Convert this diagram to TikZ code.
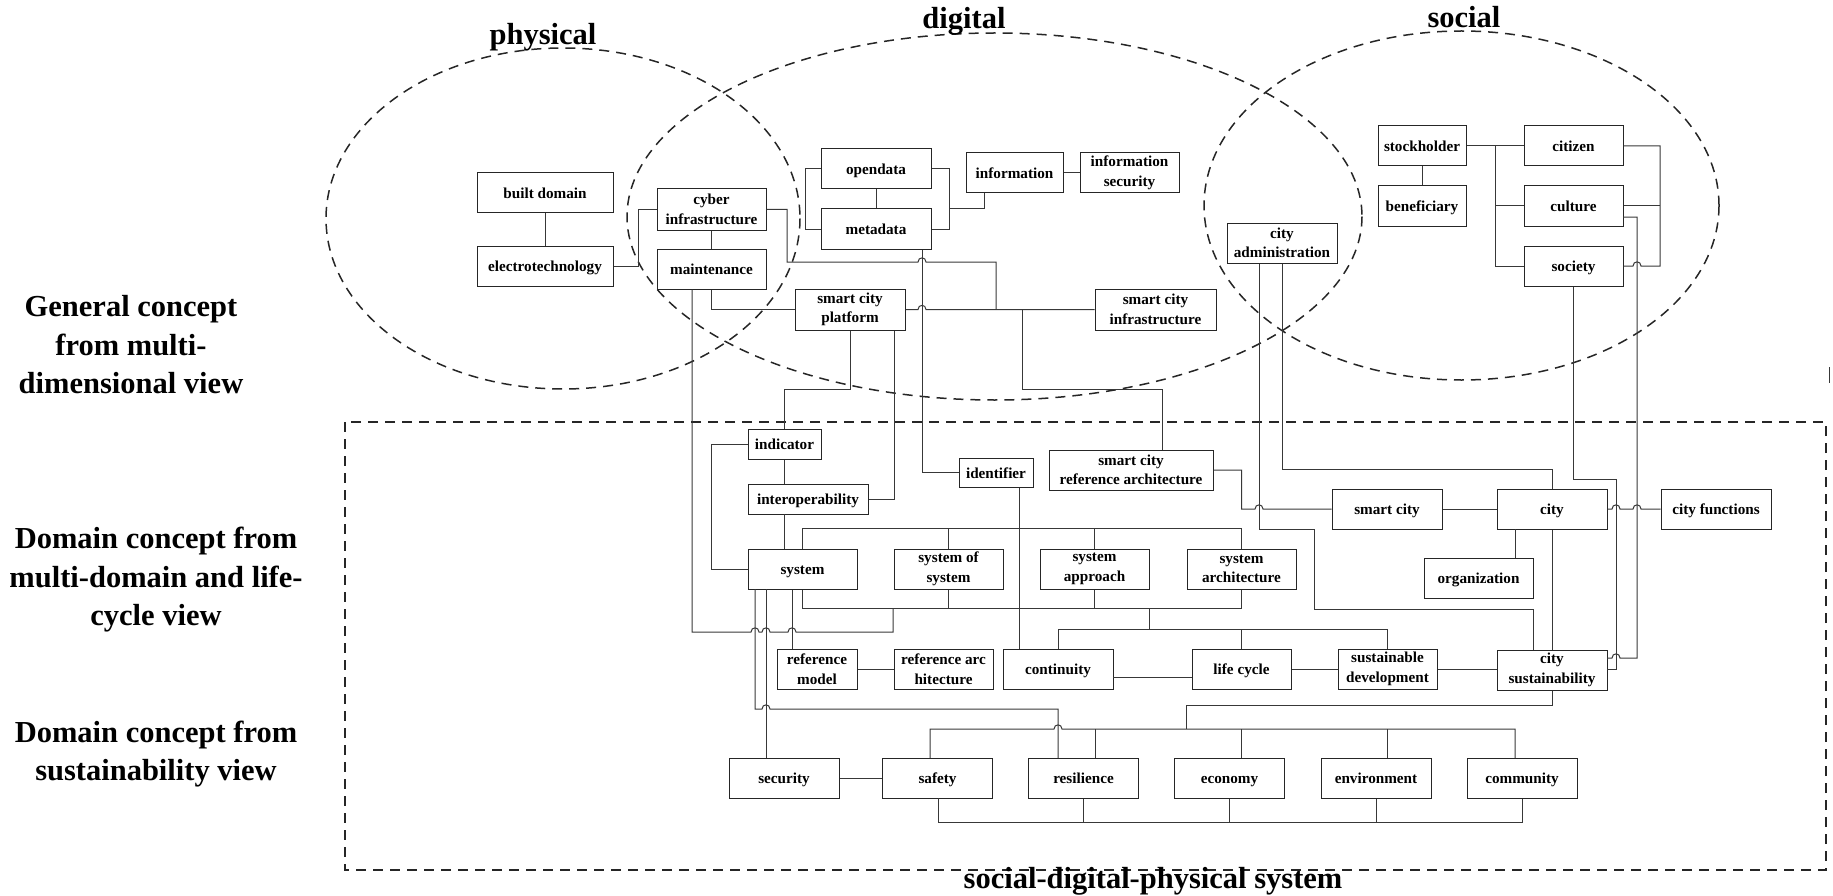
\documentclass[tikz,border=0pt]{standalone}
\usepackage{fontspec}
\setmainfont{Liberation Serif}
\newcommand\boxfont{\fontsize{15.2}{19.5}\selectfont\bfseries}
\newcommand\headfont{\fontsize{30.5}{38.5}\selectfont\bfseries}
% line hops: a small bump where a horizontal line passes over a vertical one
\newcommand\hopR[2]{-- ({#1-4},#2) .. controls ({#1-4},{#2-5.5}) and ({#1+4},{#2-5.5}) .. ({#1+4},#2)}
\newcommand\hopL[2]{-- ({#1+4},#2) .. controls ({#1+4},{#2-5.5}) and ({#1-4},{#2-5.5}) .. ({#1-4},#2)}
\begin{document}
\begin{tikzpicture}[x=1pt,y=-1pt,
  bx/.style={draw=black!85, line width=1.0pt, fill=white, inner sep=0pt, align=center, font=\boxfont, minimum height=40},
  one/.style={text height=11pt, text depth=0pt},
  ln/.style={draw=black!78, line width=1.0pt},
  dsh/.style={draw=black!85, line width=1.5pt, dash pattern=on 10pt off 7pt},
  head/.style={anchor=base, font=\headfont, inner sep=0pt},
]
\useasboundingbox (0,0) rectangle (1833,896);

% ---- domains ----
\draw[dsh] (563,218.5) ellipse [x radius=237, y radius=170.5];
\draw[dsh] (994.5,216.5) ellipse [x radius=367.5, y radius=183.5];
\draw[dsh] (1461.5,205.5) ellipse [x radius=257.5, y radius=174.5];
\draw[dsh] (345,422) rectangle (1826,870);
\draw[ln] (1829,367) -- (1829,383);

\node[head] (hphys) at (543,45) {physical};
\node[head] (hdig) at (964,29) {digital};
\node[head] (hsoc) at (1464,28) {social};
\node[head] (hsdp) at (1153,888) {social-digital-physical system};

% ---- row labels ----
\node[head] (la1) at (131,316) {General concept};
\node[head] (la2) at (131,355) {from multi-};
\node[head] (la3) at (131,393) {dimensional view};
\node[head] (lb1) at (156,548) {Domain concept from};
\node[head] (lb2) at (156,587) {multi-domain and life-};
\node[head] (lb3) at (156,625) {cycle view};
\node[head] (lc1) at (156,742) {Domain concept from};
\node[head] (lc2) at (156,780) {sustainability view};

% ---- general concepts ----
\node[bx,one,minimum width=136] (built) at (545,193) {built domain};
\node[bx,one,minimum width=136] (electro) at (545,266) {electrotechnology};
\node[bx,minimum width=109,minimum height=41] (cyber) at (711.5,209.5) {cyber\\infrastructure};
\node[bx,one,minimum width=109] (maint) at (711.5,269) {maintenance};
\node[bx,one,minimum width=110] (opendata) at (876,169) {opendata};
\node[bx,one,minimum width=110] (metadata) at (876,229) {metadata};
\node[bx,one,minimum width=97] (info) at (1014.5,173) {information};
\node[bx,minimum width=99] (infosec) at (1129.5,173) {information\\security};
\node[bx,minimum width=110,minimum height=41] (platform) at (850,309.5) {smart city\\platform};
\node[bx,minimum width=121,minimum height=41] (infra) at (1155.5,309.5) {smart city\\infrastructure};
\node[bx,minimum width=110] (cityadmin) at (1282,243) {city\\administration};
\node[bx,one,minimum width=88] (stock) at (1422,146) {stockholder};
\node[bx,one,minimum width=88] (benef) at (1422,206) {beneficiary};
\node[bx,one,minimum width=99] (citizen) at (1573.5,146) {citizen};
\node[bx,one,minimum width=99] (culture) at (1573.5,206) {culture};
\node[bx,one,minimum width=99] (society) at (1573.5,266) {society};

% ---- multi-domain and life-cycle concepts ----
\node[bx,one,minimum width=73,minimum height=30] (indicator) at (784.5,444) {indicator};
\node[bx,one,minimum width=120,minimum height=30] (interop) at (808,499) {interoperability};
\node[bx,one,minimum width=74,minimum height=29] (ident) at (996,472.5) {identifier};
\node[bx,minimum width=164] (refarch) at (1131,470) {smart city\\reference architecture};
\node[bx,one,minimum width=109] (system) at (802.5,569) {system};
\node[bx,minimum width=109] (sos) at (948.5,569) {system of\\system};
\node[bx,minimum width=109] (sysapp) at (1094.5,569) {system\\approach};
\node[bx,minimum width=109] (sysarch) at (1241.5,569) {system\\architecture};
\node[bx,one,minimum width=110] (smartcity) at (1387,509) {smart city};
\node[bx,one,minimum width=110] (city) at (1552,509) {city};
\node[bx,one,minimum width=110] (cityfunc) at (1716,509) {city functions};
\node[bx,one,minimum width=109] (org) at (1478.5,578) {organization};
\node[bx,minimum width=80] (refmodel) at (817,669) {reference\\model};
\node[bx,minimum width=99] (refarc) at (943.5,669) {reference arc\\hitecture};
\node[bx,one,minimum width=110] (continuity) at (1058,669) {continuity};
\node[bx,one,minimum width=99] (lifecycle) at (1241.5,669) {life cycle};
\node[bx,minimum width=99] (sustdev) at (1387.5,669) {sustainable\\development};
\node[bx,minimum width=110] (citysust) at (1552,670) {city\\sustainability};

% ---- sustainability concepts ----
\node[bx,one,minimum width=110] (security) at (784,778) {security};
\node[bx,one,minimum width=110] (safety) at (937.5,778) {safety};
\node[bx,one,minimum width=110] (resil) at (1083.5,778) {resilience};
\node[bx,one,minimum width=110] (economy) at (1229.5,778) {economy};
\node[bx,one,minimum width=110] (environ) at (1376,778) {environment};
\node[bx,one,minimum width=110] (community) at (1522,778) {community};

% ---- links: physical / digital ----
\draw[ln] (built) -- (electro);
\draw[ln] (electro.east) -- (638,266) |- (cyber.west);
\draw[ln] (cyber) -- (maint);
\draw[ln] (cyber.east) -- (787,209.5) -- (787,262) \hopR{922}{262} -- (996,262) -- (996,309.5);
\draw[ln] (maint.south) |- (platform.west);
\draw[ln] ([xshift=-19.5pt]maint.south) -- (692,632) \hopR{755}{632} \hopR{766}{632} \hopR{792}{632} -- (893,632) -- (893,608);
\draw[ln] (opendata) -- (metadata);
\draw[ln] (opendata.west) -- (805,169) |- (metadata.west);
\draw[ln] (opendata.east) -- (949,169) |- (metadata.east);
\draw[ln] (949,209) -| ([xshift=19pt]info.south west);
\draw[ln] (info) -- (infosec);
\draw[ln] ([xshift=-9pt]metadata.south east) |- (ident.west);
\draw[ln] (platform.east) \hopR{922}{309.5} -- (infra.west);
\draw[ln] (1022,309.5) |- (1162,389) -- ([xshift=31pt]refarch.north);
\draw[ln] (platform.south) -- (850,389) -| (indicator.north);
\draw[ln] ([xshift=-11pt]platform.south east) |- (interop.east);

% ---- links: systems ----
\draw[ln] (indicator.south) -- (indicator.south |- interop.north);
\draw[ln] (784.5,514) -- (784.5,549);
\draw[ln] (indicator.west) -- (711,444) |- (system.west);
\draw[ln] (system.north) -- (802.5,528) -| (sysarch.north);
\draw[ln] (sos.north) -- (948.5,528);
\draw[ln] (sysapp.north) -- (1094.5,528);
\draw[ln] (system.south) -- (802.5,608) -| (sysarch.south);
\draw[ln] (sos.south) -- (948.5,608);
\draw[ln] (sysapp.south) -- (1094.5,608);
\draw[ln] (1149,608) -- (1149,629);
\draw[ln] (continuity.north) -- (1058,629) -| (sustdev.north);
\draw[ln] (lifecycle.north) -- (1241.5,629);
\draw[ln] ([xshift=23pt]ident.south) -- ([xshift=23pt]ident.south |- continuity.north);
\draw[ln] (refarch.east) -- (1241.7,470) -- (1241.7,509) \hopR{1259}{509} -- (smartcity.west);
\draw[ln] (smartcity) -- (city);
\draw[ln] (city.east) \hopR{1616}{509} \hopR{1637}{509} -- (cityfunc.west);
\draw[ln] (1515,529) -- (1515,558);
\draw[ln] (city) -- (citysust);
\draw[ln] (cityadmin.south) |- (1552,469) -- (city.north);
\draw[ln] ([xshift=-23pt]cityadmin.south) -- (1259,529) -- (1314,529) -- (1314,609) -- (1533,609) -- (1533,650);
\draw[ln] (society.south) -- (1573.5,479) -- (1616,479) -- (1616,669) -- (1607,669);
\draw[ln] (1623,217) -- (1637,217) -- (1637,658) \hopL{1616}{658} -- (1607,658);

% ---- links: social ----
\draw[ln] (stock) -- (benef);
\draw[ln] (stock.east) -- (citizen.west);
\draw[ln] (1495,146) |- (society.west);
\draw[ln] (1495,206) -- (culture.west);
\draw[ln] (citizen.east) -- (1660,146) -- (1660,266) \hopL{1637}{266} -- (society.east);
\draw[ln] (culture.east) -- (1660,206);

% ---- links: life cycle / sustainability ----
\draw[ln] ([xshift=-10.5pt]system.south) -- (792,649);
\draw[ln] (refmodel) -- (refarc);
\draw[ln] (1113,677) -- (1192,677);
\draw[ln] (lifecycle) -- (sustdev);
\draw[ln] (sustdev.east) -- (sustdev.east -| citysust.west);
\draw[ln] (citysust.south) -- (1552,705) -| (1186,729);
\draw[ln] (930,758) -- (930,729) \hopR{1058}{729} -- (1515,729) -- (1515,758);
\draw[ln] (1095,729) -- (1095,758);
\draw[ln] (1241,729) -- (1241,758);
\draw[ln] (1387,729) -- (1387,758);
\draw[ln] (938,798) -- (938,822) -- (1522,822) -- (community.south);
\draw[ln] (resil.south) -- (1083.5,822);
\draw[ln] (economy.south) -- (1229.5,822);
\draw[ln] (environ.south) -- (1376,822);
\draw[ln] (security) -- (safety);
\draw[ln] (755,589) -- (755,709) \hopR{766}{709} -- (1058,709) -- (1058,758);
\draw[ln] (766,589) -- (766,758);
\end{tikzpicture}
\end{document}
